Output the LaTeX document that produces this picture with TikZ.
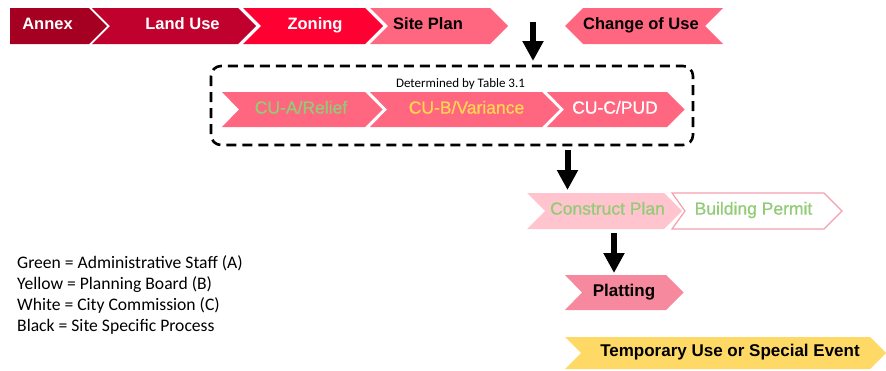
\documentclass[tikz,border=0pt]{standalone}
\usepackage{fontspec}
\setmainfont{Liberation Sans}
\newfontfamily\legendfont{Carlito}
\newfontfamily\medfont{Liberation Sans}[FakeBold=0.7]
\usetikzlibrary{arrows.meta}
\definecolor{annexred}{RGB}{165,0,33}
\definecolor{landred}{RGB}{192,0,45}
\definecolor{zonered}{RGB}{255,0,51}
\definecolor{hotpink}{RGB}{255,102,128}
\definecolor{lightpink}{RGB}{255,196,205}
\definecolor{platpink}{RGB}{246,137,157}
\definecolor{outlinepink}{RGB}{244,160,176}
\definecolor{tempyellow}{RGB}{255,217,102}
\definecolor{staffgreen}{RGB}{146,204,118}
\definecolor{boardyellow}{RGB}{255,214,80}
\newcommand{\chevshape}[6]{%
  \path[#1] (#2,#4) -- (#3,#4) -- ({#3+(#5-#4)/2},{(#4+#5)/2}) -- (#3,#5)
    -- (#2,#5) -- ({#2+#6},{(#4+#5)/2}) -- cycle;}
\tikzset{
  lab/.style={inner sep=0pt, text height=0.716em, text depth=0pt, anchor=center},
  toplab/.style={lab, font=\fontsize{16.5}{18}\selectfont\bfseries},
  culab/.style={lab, font=\medfont\fontsize{17.5}{19}\selectfont},
  boldlab/.style={lab, font=\fontsize{17}{19}\selectfont\bfseries},
  legendline/.style={inner sep=0pt, anchor=base west, font=\legendfont\fontsize{17.6}{21}\selectfont},
  blockarrow/.style={line width=6pt, -{Triangle[width=20pt,length=20pt]}},
}
\begin{document}
\begin{tikzpicture}[x=1pt,y=-1pt]
\useasboundingbox (0,0) rectangle (886,370);
\begin{scope}
\clip (0,0) rectangle (886,370);
% top row
\chevshape{fill=annexred}{10}{89}{8}{44}{0}
\chevshape{fill=landred}{92}{238}{8}{44}{18}
\chevshape{fill=zonered}{243}{365}{8}{44}{18}
\chevshape{fill=hotpink}{370}{490}{8}{44}{18}
\path[fill=hotpink] (565,26) -- (583,8) -- (723,8) -- (705,26) -- (723,44) -- (583,44) -- cycle;
\node[toplab, text=white] (annex) at (47.5,26) {Annex};
\node[toplab, text=white] (landuse) at (182.5,26) {Land Use};
\node[toplab, text=white] (zoning) at (315,26) {Zoning};
\node[toplab, text=black] (siteplan) at (428,26) {Site Plan};
\node[toplab, text=black] (changeofuse) at (641,26) {Change of Use};
% dashed box
\draw[line width=2.6pt, dash pattern=on 10pt off 6pt, rounded corners=10pt] (211,66) rectangle (693,145);
\node[inner sep=0pt, anchor=base, font=\legendfont\fontsize{13}{15}\selectfont] (table) at (460.5,87) {Determined by Table 3.1};
% second row
\chevshape{fill=hotpink}{222}{365}{92}{127}{17}
\chevshape{fill=hotpink}{370}{542}{92}{127}{17}
\chevshape{fill=hotpink}{547}{667}{92}{127}{17}
\node[culab, text=staffgreen] (cua) at (301,110) {CU-A/Relief};
\node[culab, text=boardyellow] (cub) at (466.5,110) {CU-B/Variance};
\node[culab, text=white] (cuc) at (615,110) {CU-C/PUD};
% construct plan / building permit
\chevshape{fill=lightpink}{527}{664}{193}{229}{18}
\chevshape{draw=outlinepink, line width=1.2pt, fill=white}{672}{824}{193}{229}{13}
\node[culab, text=staffgreen] (construct) at (607.5,211) {Construct Plan};
\node[culab, text=staffgreen] (permit) at (753.5,211) {Building Permit};
% platting
\chevshape{fill=platpink}{565}{666}{275}{310}{17}
\node[boldlab, text=black] (platting) at (624,292.5) {Platting};
% temporary use
\chevshape{fill=tempyellow}{565}{870}{337}{369}{16}
\node[boldlab, text=black] (temporary) at (730,353) {Temporary Use or Special Event};
\end{scope}
% block arrows
\coordinate (a1s) at (533,22);
\coordinate (a1e) at (533,61);
\coordinate (a2s) at (567.5,150);
\coordinate (a2e) at (567.5,190);
\coordinate (a3s) at (614,233);
\coordinate (a3e) at (614,273);
\draw[blockarrow] (a1s) -- (a1e);
\draw[blockarrow] (a2s) -- (a2e);
\draw[blockarrow] (a3s) -- (a3e);
% legend
\node[legendline] (leg1) at (17,268) {Green = Administrative Staff (A)};
\node[legendline] (leg2) at (17,289) {Yellow = Planning Board (B)};
\node[legendline] (leg3) at (17,310) {White = City Commission (C)};
\node[legendline] (leg4) at (17,331) {Black = Site Specific Process};
\end{tikzpicture}
\end{document}
